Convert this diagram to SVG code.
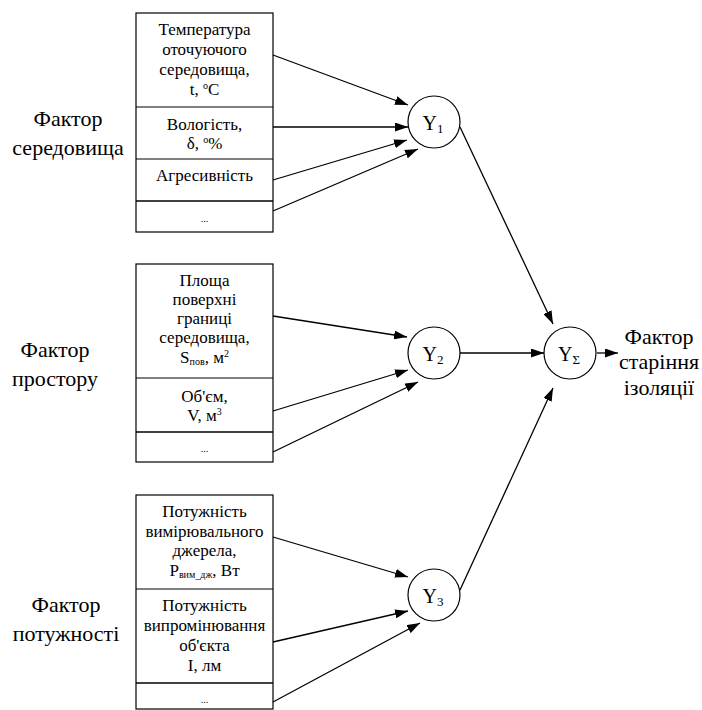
<svg xmlns="http://www.w3.org/2000/svg" width="702" height="710" viewBox="0 0 702 710">
<defs>
<marker id="ah" markerUnits="userSpaceOnUse" markerWidth="13" markerHeight="9" refX="13" refY="4.5" orient="auto">
<path d="M0,0 L13,4.5 L0,9 z" fill="#000"/>
</marker>
</defs>
<style>
text{font-family:'Liberation Serif','Times New Roman',serif;fill:#000}
.b{font-size:17px;text-anchor:middle}
.d{font-size:10px;text-anchor:middle}
.f{font-size:22px;text-anchor:middle}
.y{font-size:20px;text-anchor:middle}
.box{fill:#fff;stroke:#000;stroke-width:1.2}
.div{stroke:#000;stroke-width:1.2}
.div2{stroke:#000;stroke-width:1.7}
.c{fill:#fff;stroke:#000;stroke-width:1.2}
.e{stroke:#000;stroke-width:1.3;fill:none;marker-end:url(#ah)}
</style>
<rect width="702" height="710" fill="#fff"/>

<g id="label-env">
<text class="f" x="68" y="126">Фактор</text>
<text class="f" x="68" y="155">середовища</text>
</g>
<g id="label-space">
<text class="f" x="55" y="357">Фактор</text>
<text class="f" x="55" y="386">простору</text>
</g>
<g id="label-power">
<text class="f" x="66" y="612">Фактор</text>
<text class="f" x="66" y="641">потужності</text>
</g>

<g id="box-env">
<rect class="box" x="136" y="13" width="137" height="219"/>
<line class="div" x1="136" y1="107" x2="273" y2="107"/>
<line class="div" x1="136" y1="159" x2="273" y2="159"/>
<line class="div2" x1="136" y1="201" x2="273" y2="201"/>
<text class="b" x="204.5" y="35">Температура</text>
<text class="b" x="204.5" y="55">оточуючого</text>
<text class="b" x="204.5" y="75">середовища,</text>
<text class="b" x="204.5" y="95">t, <tspan font-size="10" dy="-6">o</tspan><tspan dy="6">C</tspan></text>
<text class="b" x="204.5" y="130">Вологість,</text>
<text class="b" x="204.5" y="149">δ, <tspan font-size="10" dy="-6">o</tspan><tspan dy="6">%</tspan></text>
<text class="b" x="204.5" y="181">Агресивність</text>
<text class="d" x="204.5" y="222">...</text>
</g>

<g id="box-space">
<rect class="box" x="136" y="264" width="137" height="198"/>
<line class="div" x1="136" y1="378" x2="273" y2="378"/>
<line class="div2" x1="136" y1="432" x2="273" y2="432"/>
<text class="b" x="204.5" y="286">Площа</text>
<text class="b" x="204.5" y="305">поверхні</text>
<text class="b" x="204.5" y="324">границі</text>
<text class="b" x="204.5" y="343">середовища,</text>
<text class="b" x="204.5" y="363">S<tspan font-size="10" dy="2">пов</tspan><tspan dy="-2">, м</tspan><tspan font-size="10" dy="-6">2</tspan></text>
<text class="b" x="204.5" y="402">Об'єм,</text>
<text class="b" x="204.5" y="421">V, м<tspan font-size="10" dy="-6">3</tspan></text>
<text class="d" x="204.5" y="452">...</text>
</g>

<g id="box-power">
<rect class="box" x="136" y="495" width="137" height="214"/>
<line class="div" x1="136" y1="589" x2="273" y2="589"/>
<line class="div2" x1="136" y1="683" x2="273" y2="683"/>
<text class="b" x="204.5" y="517">Потужність</text>
<text class="b" x="204.5" y="537">вимірювального</text>
<text class="b" x="204.5" y="556">джерела,</text>
<text class="b" x="204.5" y="576">P<tspan font-size="10" dy="2">вим_дж</tspan><tspan dy="-2">, Вт</tspan></text>
<text class="b" x="204.5" y="611">Потужність</text>
<text class="b" x="204.5" y="631">випромінювання</text>
<text class="b" x="204.5" y="651">об'єкта</text>
<text class="b" x="204.5" y="671">I, лм</text>
<text class="d" x="204.5" y="703">...</text>
</g>

<g id="node-y1">
<circle class="c" cx="434" cy="122" r="26"/>
<text class="y" x="433" y="130">Y<tspan font-size="13" dy="3">1</tspan></text>
</g>
<g id="node-y2">
<circle class="c" cx="434" cy="353" r="26"/>
<text class="y" x="433" y="361">Y<tspan font-size="13" dy="3">2</tspan></text>
</g>
<g id="node-y3">
<circle class="c" cx="434" cy="595" r="26"/>
<text class="y" x="433" y="603">Y<tspan font-size="13" dy="3">3</tspan></text>
</g>
<g id="node-ysum">
<circle class="c" cx="570" cy="353" r="26"/>
<text class="y" x="569" y="361">Y<tspan font-size="13" dy="3">Σ</tspan></text>
</g>

<g id="label-out">
<text class="f" x="659" y="344">Фактор</text>
<text class="f" x="659" y="369">старіння</text>
<text class="f" x="659" y="395">ізоляції</text>
</g>

<g id="connectors">
<line class="e" x1="273" y1="55" x2="408" y2="105"/>
<line class="e" x1="273" y1="127" x2="408" y2="127"/>
<line class="e" x1="273" y1="180" x2="407" y2="140"/>
<line class="e" x1="273" y1="211" x2="418" y2="149"/>
<line class="e" x1="273" y1="316" x2="407" y2="337"/>
<line class="e" x1="273" y1="411" x2="408" y2="370"/>
<line class="e" x1="273" y1="452" x2="418" y2="382"/>
<line class="e" x1="273" y1="537" x2="408" y2="577"/>
<line class="e" x1="273" y1="642" x2="408" y2="611"/>
<line class="e" x1="273" y1="702" x2="420" y2="623"/>
<line class="e" x1="460" y1="127" x2="553" y2="324"/>
<line class="e" x1="460" y1="353" x2="544" y2="353"/>
<line class="e" x1="460" y1="590" x2="553" y2="388"/>
<line class="e" x1="597" y1="353" x2="618" y2="353"/>
</g>
</svg>
